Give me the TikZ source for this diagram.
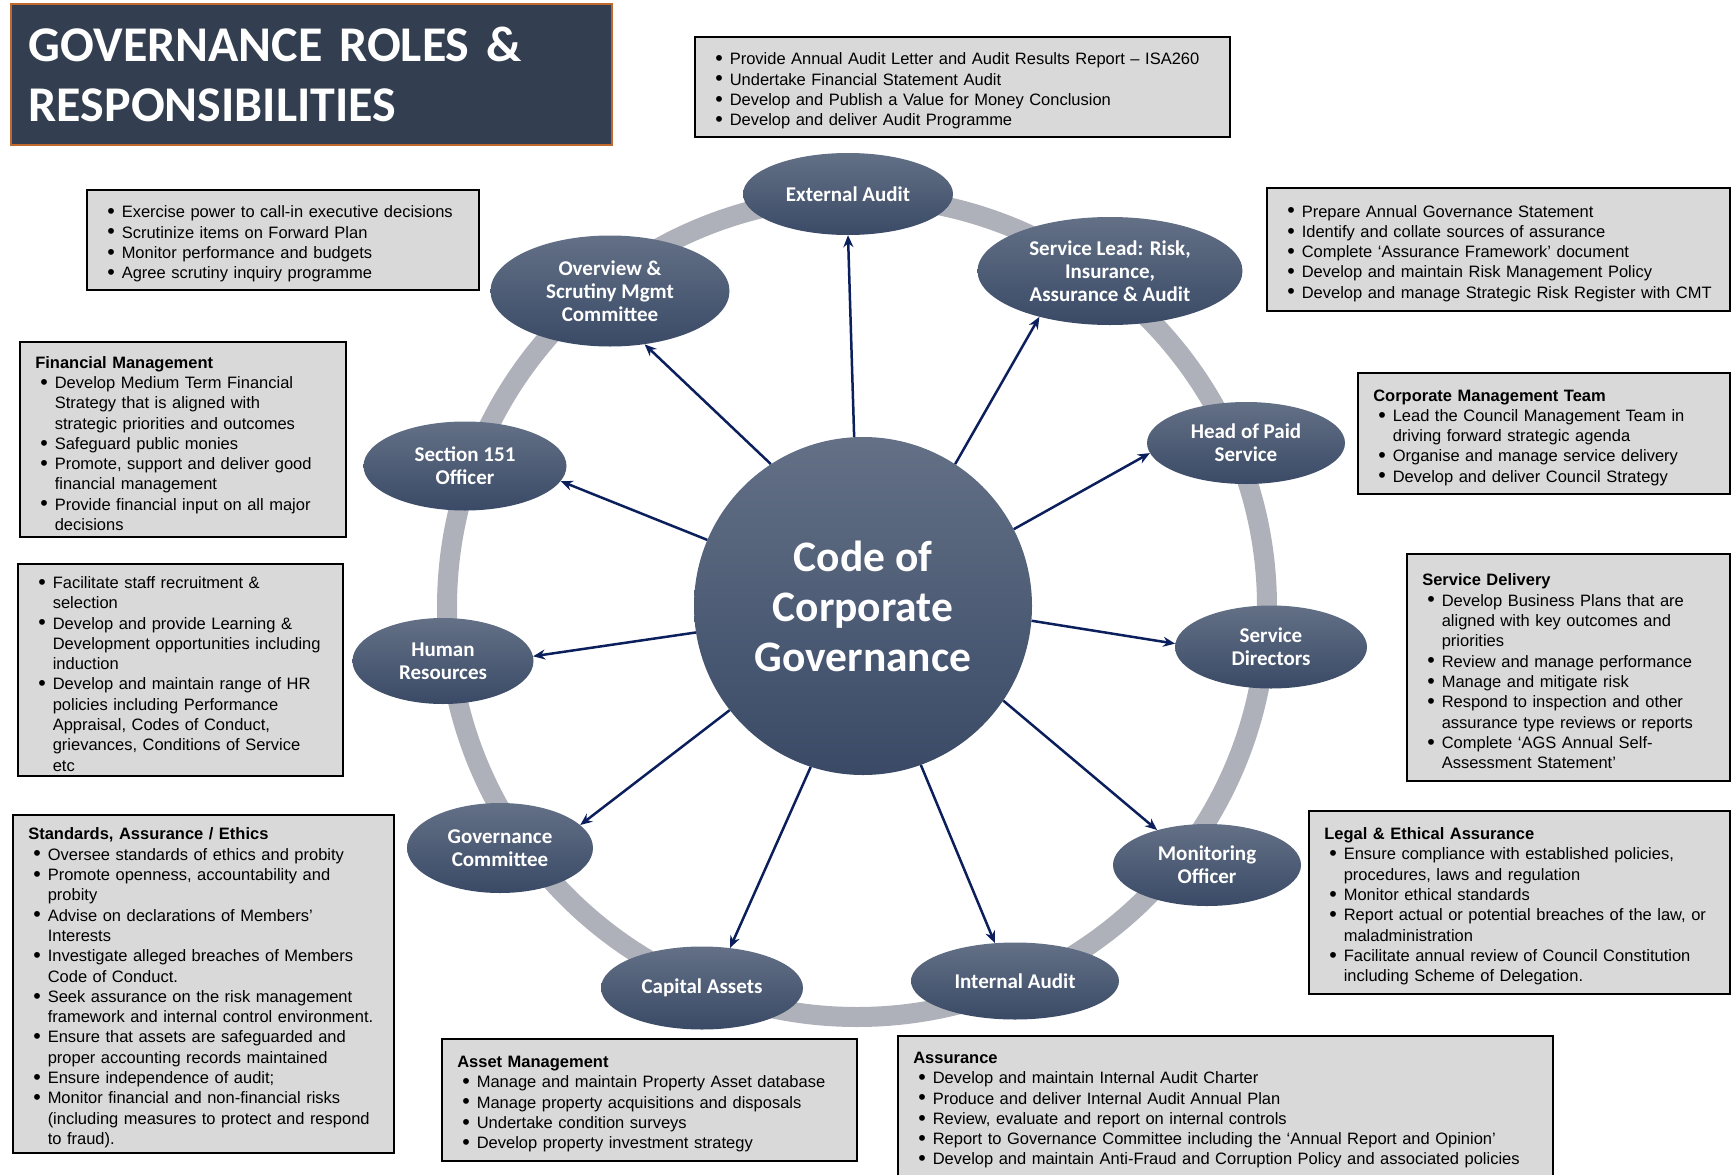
\documentclass[tikz,border=0pt]{standalone}
\usepackage{fontspec}
\setmainfont{Liberation Sans}
\newfontfamily\calib{Carlito}
\usetikzlibrary{shapes.geometric,arrows.meta}

\definecolor{titlebg}{HTML}{333F50}
\definecolor{titleedge}{HTML}{C0692F}
\definecolor{elltop}{HTML}{637086}
\definecolor{ellbot}{HTML}{3A4A66}
\definecolor{ringgray}{HTML}{AEB1B9}
\definecolor{navy}{HTML}{0B1F5C}
\definecolor{boxgray}{HTML}{D9D9D9}

\newcommand\hd[1]{\par\noindent\mbox{\bfseries #1}}
\newcommand\bi[1]{\par\noindent\makebox[19.5pt][l]{\hspace{5pt}\raisebox{-0.7pt}{\scalebox{1.3}{\textbullet}}}\mbox{#1}}
\newcommand\ci[1]{\par\noindent\hspace*{19.5pt}\mbox{#1}}

\begin{document}
\begin{tikzpicture}[x=1pt,y=-1pt,
  role/.style={ellipse, inner sep=0pt, top color=elltop, bottom color=ellbot, draw=none,
    text=white, font=\calib\bfseries\fontsize{21}{23}\selectfont, align=center},
  info/.style={draw=black, line width=1.5pt, fill=boxgray, inner xsep=15.5pt, inner ysep=0pt,
    anchor=north west, font=\fontsize{16.5}{20.3}\selectfont},
  arr/.style={draw=navy, line width=2.5pt, -{Stealth[length=12pt,width=10pt]}}
]
\useasboundingbox (0,0) rectangle (1732,1175);
\clip (0,0) rectangle (1732,1175);

% ring
\draw[ringgray, line width=20pt] (857,607) circle[radius=410pt];

% title
\node[anchor=north west, fill=titlebg, draw=titleedge, line width=1.5pt,
  minimum width=601pt, minimum height=141pt, text width=565pt, inner xsep=18pt,
  align=left, text=white, font=\calib\bfseries\fontsize{50}{60}\selectfont]
  (title) at (10,3) {GOVERNANCE ROLES \&\\RESPONSIBILITIES};

% centre
\node[circle, inner sep=0pt, minimum size=338pt, top color=elltop, bottom color=ellbot,
  text=white, align=center, font=\calib\bfseries\fontsize{43.5}{50}\selectfont]
  (cgc) at (863,606) {Code of\\Corporate\\Governance};

% roles
\node[role, minimum width=210pt, minimum height=82pt] (ea) at (848,194) {External Audit};
\node[role, minimum width=265pt, minimum height=108pt] (sl) at (1110,271) {Service Lead: Risk,\\Insurance,\\Assurance \& Audit};
\node[role, minimum width=198pt, minimum height=82pt] (hp) at (1246,443) {Head of Paid\\Service};
\node[role, minimum width=192pt, minimum height=83pt] (sd) at (1271,647) {Service\\Directors};
\node[role, minimum width=188pt, minimum height=82pt] (mo) at (1207,865) {Monitoring\\Officer};
\node[role, minimum width=208pt, minimum height=77pt] (ia) at (1015,981) {Internal Audit};
\node[role, minimum width=202pt, minimum height=83pt] (ca) at (702,988) {Capital Assets};
\node[role, minimum width=186pt, minimum height=90pt] (gc) at (500,848) {Governance\\Committee};
\node[role, minimum width=181pt, minimum height=86pt] (hr) at (443,661) {Human\\Resources};
\node[role, minimum width=203pt, minimum height=89pt] (s151) at (465,466) {Section 151\\Officer};
\node[role, minimum width=239pt, minimum height=111pt] (ov) at (610,291) {Overview \&\\Scrutiny Mgmt\\Committee};

% arrows
\draw[arr] (cgc.93.4) -- (ea.-90);
\draw[arr] (cgc.57.2) -- (sl.213.5);
\draw[arr] (cgc.27.3) -- (hp.186.6);
\draw[arr] (cgc.-5.4) -- (sd.178.8);
\draw[arr] (cgc.-34) -- (mo.145.8);
\draw[arr] (cgc.-70.3) -- (ia.118.8);
\draw[arr] (cgc.-108) -- (ca.55);
\draw[arr] (cgc.-142) -- (gc.16);
\draw[arr] (cgc.189) -- (hr.3.7);
\draw[arr] (cgc.157) -- (s151.-9.8);
\draw[arr] (cgc.123.8) -- (ov.-57.7);

% boxes
\node[info, minimum width=535pt, minimum height=100pt, text width=504pt] (bea) at (694,36) {%
\bi{Provide Annual Audit Letter and Audit Results Report – ISA260}
\bi{Undertake Financial Statement Audit}
\bi{Develop and Publish a Value for Money Conclusion}
\bi{Develop and deliver Audit Programme}};

\node[info, minimum width=392pt, minimum height=100pt, text width=361pt] (bov) at (86,189) {%
\bi{Exercise power to call-in executive decisions}
\bi{Scrutinize items on Forward Plan}
\bi{Monitor performance and budgets}
\bi{Agree scrutiny inquiry programme}};

\node[info, minimum width=326pt, minimum height=195pt, text width=295pt] (bfin) at (19,341) {%
\hd{Financial Management}
\bi{Develop Medium Term Financial}
\ci{Strategy that is aligned with}
\ci{strategic priorities and outcomes}
\bi{Safeguard public monies}
\bi{Promote, support and deliver good}
\ci{financial management}
\bi{Provide financial input on all major}
\ci{decisions}};

\node[info, minimum width=325pt, minimum height=212pt, text width=294pt] (bhr) at (17,563) {%
\bi{Facilitate staff recruitment \&}
\ci{selection}
\bi{Develop and provide Learning \&}
\ci{Development opportunities including}
\ci{induction}
\bi{Develop and maintain range of HR}
\ci{policies including Performance}
\ci{Appraisal, Codes of Conduct,}
\ci{grievances, Conditions of Service}
\ci{etc}};

\node[info, minimum width=381pt, minimum height=338pt, text width=350pt] (bstd) at (12,814) {%
\hd{Standards, Assurance / Ethics}
\bi{Oversee standards of ethics and probity}
\bi{Promote openness, accountability and}
\ci{probity}
\bi{Advise on declarations of Members’}
\ci{Interests}
\bi{Investigate alleged breaches of Members}
\ci{Code of  Conduct.}
\bi{Seek assurance on the risk management}
\ci{framework and internal control environment.}
\bi{Ensure that assets are safeguarded and}
\ci{proper accounting records maintained}
\bi{Ensure independence of audit;}
\bi{Monitor financial and non-financial risks}
\ci{(including measures to  protect and respond}
\ci{to fraud).}};

\node[info, minimum width=415pt, minimum height=122pt, text width=384pt] (bast) at (441,1038) {%
\hd{Asset Management}
\bi{Manage and maintain Property Asset database}
\bi{Manage property acquisitions and disposals}
\bi{Undertake condition surveys}
\bi{Develop property investment strategy}};

\node[info, minimum width=655pt, minimum height=170pt, text width=624pt] (bass) at (897,1035) {%
\hd{Assurance}
\bi{Develop and maintain Internal Audit Charter}
\bi{Produce and deliver Internal Audit Annual Plan}
\bi{Review, evaluate and report on internal controls}
\bi{Report to Governance Committee including the ‘Annual Report and Opinion’}
\bi{Develop and maintain Anti-Fraud and Corruption Policy and associated policies}
\par\noindent\rule{0pt}{29pt}};

\node[info, minimum width=463pt, minimum height=123pt, text width=432pt] (bsl) at (1266,187) {%
\bi{Prepare Annual Governance Statement}
\bi{Identify and collate sources of assurance}
\bi{Complete ‘Assurance Framework’ document}
\bi{Develop and maintain Risk Management Policy}
\bi{Develop and manage Strategic Risk Register with CMT}};

\node[info, minimum width=372pt, minimum height=121pt, text width=341pt] (bcmt) at (1357,372) {%
\hd{Corporate Management Team}
\bi{Lead the Council Management Team in}
\ci{driving forward strategic agenda}
\bi{Organise and manage service delivery}
\bi{Develop and deliver Council Strategy}};

\node[info, minimum width=323pt, minimum height=227pt, text width=292pt] (bsd) at (1406,553) {%
\hd{Service Delivery}
\bi{Develop Business Plans that are}
\ci{aligned with key outcomes and}
\ci{priorities}
\bi{Review and manage performance}
\bi{Manage and mitigate risk}
\bi{Respond to inspection and other}
\ci{assurance type reviews or reports}
\bi{Complete ‘AGS Annual Self-}
\ci{Assessment Statement’}};

\node[info, minimum width=421pt, minimum height=183pt, text width=390pt] (blgl) at (1308,810) {%
\hd{Legal \& Ethical Assurance}
\bi{Ensure compliance with established policies,}
\ci{procedures, laws and regulation}
\bi{Monitor ethical standards}
\bi{Report actual or potential breaches of the law, or}
\ci{maladministration}
\bi{Facilitate annual review of Council Constitution}
\ci{including Scheme of Delegation.}};

\end{tikzpicture}
\end{document}
